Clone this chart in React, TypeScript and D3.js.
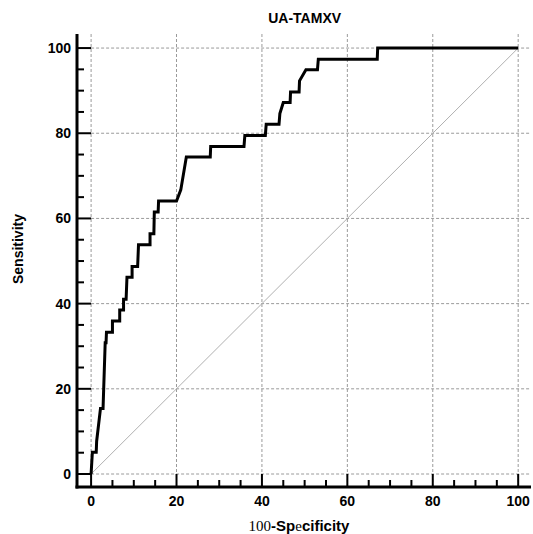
import React, { useEffect, useRef } from 'react';
import * as d3 from 'd3';

// ROC curve vertices (100-Specificity, Sensitivity)
const fpr = [0, 0.3, 1.2, 1.3, 2.2, 2.8, 3.3, 3.5, 3.6, 5.0, 5.0, 6.7, 6.7, 7.6, 7.6, 8.2, 8.4, 9.6, 9.6, 10.9,
  11.1, 13.8, 13.8, 14.7, 14.8, 15.7, 15.8, 20.0, 21.0, 22.3, 27.9, 28.0, 35.8, 36.0, 40.8, 41.0, 44.0, 44.2,
  45.0, 46.6, 46.7, 48.7, 48.8, 50.3, 53.0, 53.2, 67.0, 67.1, 100];
const tpr = [0, 5.1, 5.1, 7.7, 15.4, 15.4, 30.8, 30.8, 33.3, 33.3, 35.9, 35.9, 38.5, 38.5, 41.0, 41.0, 46.2, 46.2, 48.7, 48.7,
  53.8, 53.8, 56.4, 56.4, 61.5, 61.5, 64.1, 64.1, 66.7, 74.4, 74.4, 76.9, 76.9, 79.5, 79.5, 82.1, 82.1, 84.6,
  87.2, 87.2, 89.7, 89.7, 92.3, 94.9, 94.9, 97.4, 97.4, 100, 100];
const majorTicks = [0, 20, 40, 60, 80, 100];
const minorTicks = [5, 10, 15, 25, 30, 35, 45, 50, 55, 65, 70, 75, 85, 90, 95];

const title = 'UA-TAMXV';
const yTitle = 'Sensitivity';

const App = () => {
  const ref = useRef<SVGSVGElement | null>(null);

  useEffect(() => {
    const svg = d3.select(ref.current);
    svg.selectAll('*').remove();

    const x = d3.scaleLinear().domain([-3.3, 103]).range([77, 531]);
    const y = d3.scaleLinear().domain([-3.05, 103.3]).range([487, 34]);
    const font = '"Liberation Sans", Arial, sans-serif';

    // grid
    const grid = svg.append('g').attr('stroke', '#9a9a9a').attr('stroke-width', 1).attr('stroke-dasharray', '3,2');
    majorTicks.forEach((t) => {
      grid.append('line').attr('x1', x(t)).attr('x2', x(t)).attr('y1', y(103.3)).attr('y2', y(-3.05));
      grid.append('line').attr('x1', x(0)).attr('x2', x(103)).attr('y1', y(t)).attr('y2', y(t));
    });

    // reference diagonal
    svg.append('line')
      .attr('x1', x(0)).attr('y1', y(0)).attr('x2', x(100)).attr('y2', y(100))
      .attr('stroke', '#b0b0b0').attr('stroke-width', 1);

    // ROC curve
    const pts = fpr.map((f, i) => [f, tpr[i]] as [number, number]);
    const line = d3.line<[number, number]>().x((d) => x(d[0])).y((d) => y(d[1]));
    svg.append('path')
      .attr('d', line(pts))
      .attr('fill', 'none')
      .attr('stroke', '#000')
      .attr('stroke-width', 3)
      .attr('stroke-linejoin', 'miter');

    // axes lines
    const axes = svg.append('g').attr('stroke', '#000').attr('stroke-width', 3);
    axes.append('line').attr('x1', x(-3.3)).attr('x2', x(-3.3)).attr('y1', y(103.3)).attr('y2', y(-3.05) + 1.5);
    axes.append('line').attr('x1', x(-3.3) - 1.5).attr('x2', x(103)).attr('y1', y(-3.05)).attr('y2', y(-3.05));

    const ticks = svg.append('g').attr('stroke', '#000').attr('stroke-width', 2);
    majorTicks.forEach((t) => {
      ticks.append('line').attr('x1', x(-3.3)).attr('x2', x(0)).attr('y1', y(t)).attr('y2', y(t));
      ticks.append('line').attr('x1', x(t)).attr('x2', x(t)).attr('y1', y(-3.05)).attr('y2', y(0));
    });
    minorTicks.forEach((t) => {
      ticks.append('line').attr('x1', x(-3.3)).attr('x2', x(-3.3) + 7).attr('y1', y(t)).attr('y2', y(t));
      ticks.append('line').attr('x1', x(t)).attr('x2', x(t)).attr('y1', y(-3.05)).attr('y2', y(-3.05) - 7);
    });

    // tick labels
    majorTicks.forEach((t) => {
      svg.append('text')
        .attr('x', x(-3.3) - 6).attr('y', y(t) + 5)
        .attr('text-anchor', 'end')
        .style('font', `bold 14px ${font}`)
        .text(t);
      svg.append('text')
        .attr('x', x(t)).attr('y', y(-3.05) + 19)
        .attr('text-anchor', 'middle')
        .style('font', `bold 14px ${font}`)
        .text(t);
    });

    // titles
    svg.append('text')
      .attr('x', x(50)).attr('y', 23)
      .attr('text-anchor', 'middle')
      .style('font', `bold 14px ${font}`)
      .text(title);

    svg.append('text')
      .attr('transform', `translate(23,${y(50) - 12}) rotate(-90)`)
      .attr('text-anchor', 'middle')
      .style('font', `bold 14px ${font}`)
      .text(yTitle);

    const xt = svg.append('text')
      .attr('x', 299).attr('y', 531)
      .attr('text-anchor', 'middle')
      .style('font-size', '15px');
    xt.append('tspan').style('font-family', '"Liberation Serif", serif').text('100');
    xt.append('tspan').style('font-family', font).style('font-weight', 'bold').text('-Sp');
    xt.append('tspan').style('font-family', '"Liberation Serif", serif').text('e');
    xt.append('tspan').style('font-family', font).style('font-weight', 'bold').text('cificity');
  }, []);

  return (
    <div style={{ position: 'absolute', left: 0, top: 0 }}>
      <svg ref={ref} width={533} height={534} style={{ display: 'block', background: '#fff' }} />
    </div>
  );
};

export default App;
